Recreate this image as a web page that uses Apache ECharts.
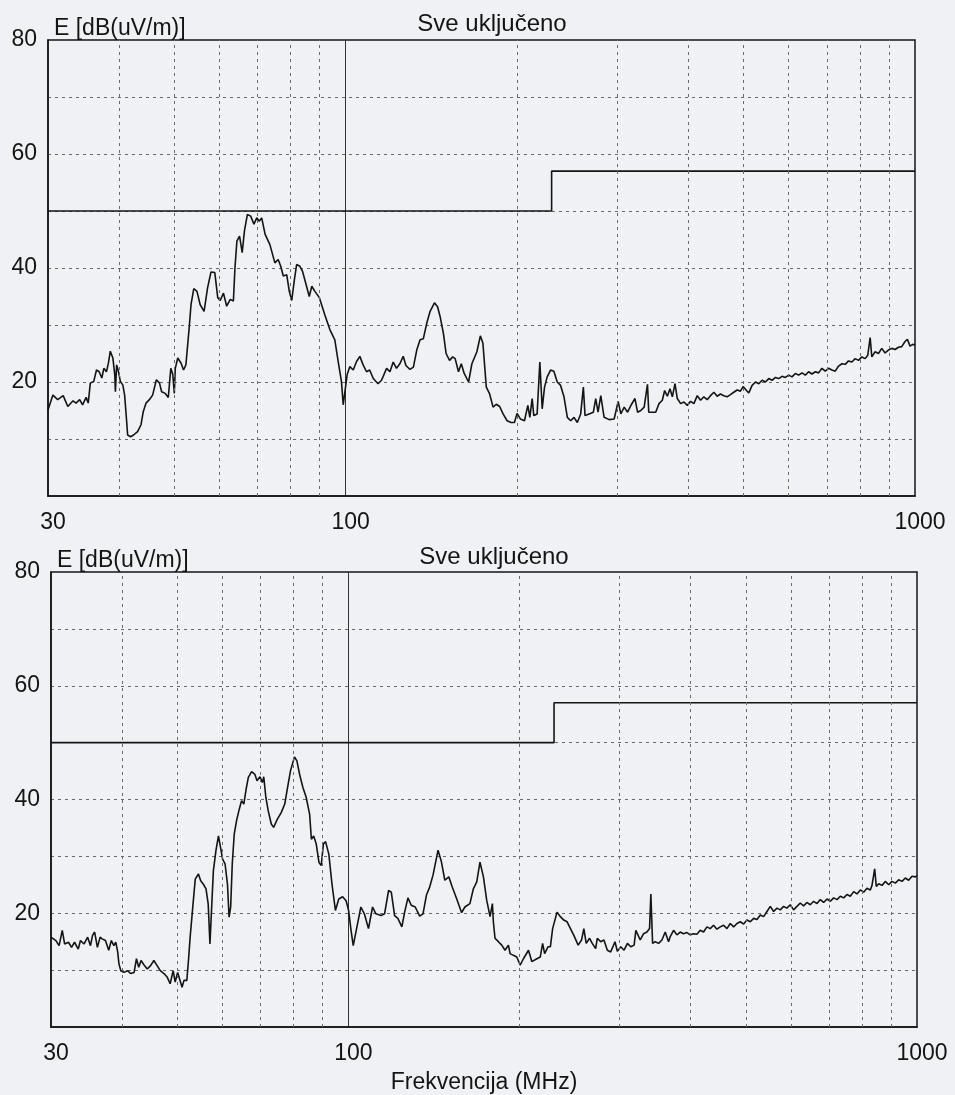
<!DOCTYPE html>
<html>
<head>
<meta charset="utf-8">
<title>Sve uključeno</title>
<script src="https://cdn.jsdelivr.net/npm/echarts/dist/echarts.min.js"></script>
<style>
html, body { margin: 0; padding: 0; background: #eff1f4; }
#chart { width: 955px; height: 1095px; }
</style>
</head>
<body>
<div id="chart"></div>
<script>
// gornji graf - frekvencija (MHz) i razina (dB(uV/m))
var topFreq = [30.0, 30.6, 31.2, 31.9, 32.5, 33.2, 33.6, 34.1, 34.5, 35.0, 35.3, 35.6, 36.1, 36.5, 36.9, 37.3, 37.6, 38.0, 38.3, 38.6,
	39.0, 39.3, 39.4, 39.6, 39.9, 40.2, 40.6, 40.9, 41.2, 41.4, 41.9, 42.4, 43.1, 43.7, 44.1, 44.6, 45.2, 45.8, 46.5, 47.1,
	47.5, 48.2, 48.8, 49.3, 49.7, 50.0, 50.2, 50.7, 51.4, 51.9, 52.4, 52.8, 53.1, 53.5, 54.1, 54.8, 55.5, 56.4, 57.2, 58.0,
	58.9, 59.6, 60.2, 61.0, 61.8, 62.7, 63.5, 63.9, 64.4, 65.1, 65.8, 66.4, 67.2, 68.1, 69.0, 69.8, 70.5, 71.2, 72.2, 73.6,
	75.1, 76.1, 76.9, 77.7, 78.8, 79.6, 80.4, 81.2, 82.0, 83.1, 84.0, 85.2, 86.3, 87.2, 88.3, 89.9, 91.9, 93.8, 95.7, 97.0,
	98.3, 99.0, 99.8, 100.6, 101.7, 103.1, 104.5, 105.9, 107.3, 108.8, 110.2, 111.7,
	112.5, 114.0, 115.6, 118.0, 119.6, 121.2, 122.8, 124.5, 126.2, 127.6, 129.7, 131.5, 133.3, 135.1, 136.9, 138.8, 140.7, 143.2,
	145.0, 146.5, 148.5, 150.1, 152.2, 154.2, 155.7, 157.8, 159.6, 161.5, 164.4, 166.6, 170.0, 172.4, 174.2, 176.6, 179.0, 181.5,
	183.9, 186.4, 189.0, 192.1, 195.2, 197.9, 200.0, 202.8, 206.1, 208.9, 210.6, 212.6, 214.0, 216.9, 219.3, 221.4, 223.5, 225.9,
	229.0, 232.1, 235.3, 238.5, 241.8, 245.1, 248.4, 251.8, 255.2, 258.7, 261.5, 263.3, 267.6, 272.3, 274.9, 277.5, 280.6, 284.4,
	290.3, 296.2, 301.0, 304.3, 308.5, 312.7, 317.8, 322.2, 325.6,
	329.9, 334.4, 338.9, 340.7, 345.8, 350.4, 355.1, 359.9, 363.3, 367.3, 371.2, 374.8, 378.8, 382.4, 387.6, 392.8, 398.1, 403.5,
	408.9, 414.5, 420.1, 425.7, 431.5, 437.3, 443.3, 449.3, 455.3, 461.5, 467.7, 474.1, 480.5, 487.0, 493.6, 499.0, 505.8, 510.5,
	517.5, 524.5, 531.6, 538.8, 546.1, 553.5, 561.0, 568.6, 576.3, 584.1, 592.0, 600.0, 608.1, 616.4, 624.7, 633.2, 641.7, 650.4,
	659.2, 668.1, 677.2, 686.3, 695.6, 705.1, 714.6, 724.3, 734.1, 744.0, 754.1, 764.3, 774.6, 785.1, 795.7, 806.5, 817.4, 826.2,
	834.1, 839.7, 851.1, 862.6, 874.3, 886.1, 898.1, 910.3, 922.6, 935.1, 947.7, 960.5, 969.6, 980.1, 990.7, 1000];
var topLevel = [15.1, 17.7, 16.9, 17.6, 15.7, 16.7, 16.3, 16.9, 16.0, 17.3, 16.3, 19.8, 20.1, 22.1, 21.8, 20.7, 22.4, 21.8, 23.3, 25.4,
	24.2, 21.3, 18.3, 23.0, 21.8, 20.1, 19.5, 17.7, 13.6, 10.7, 10.4, 10.7, 11.3, 12.5, 14.8, 16.3, 16.9, 17.7, 20.4, 19.8,
	18.3, 18.0, 17.3, 22.4, 21.3, 18.0, 22.4, 24.2, 23.3, 22.1, 23.0, 23.0, 29.5, 33.6, 36.4, 35.9, 33.6, 32.4, 36.5, 39.3,
	39.2, 34.8, 34.3, 35.6, 33.3, 34.5, 34.2, 40.0, 44.7, 45.6, 42.7, 46.5, 49.4, 49.1, 47.7, 48.8, 48.2, 48.8, 45.9, 44.1,
	40.9, 41.5, 40.3, 38.6, 38.8, 35.9, 34.3, 37.7, 40.6, 40.3, 39.4, 37.1, 35.0, 36.8, 35.9, 34.8, 31.8, 29.2, 27.4, 23.6,
	20.1, 16.0, 16.0, 21.3, 22.7, 22.1, 23.6, 24.5, 23.0, 21.8, 22.1, 20.7,
	20.3, 19.7, 20.3, 22.4, 21.8, 23.5, 22.4, 23.2, 24.5, 22.9, 22.2, 22.6, 25.6, 27.4, 27.6, 30.3, 32.4, 33.9,
	33.2, 31.5, 28.5, 25.0, 23.8, 24.4, 24.1, 21.8, 23.2, 21.5, 20.0, 23.2, 25.3, 28.1, 26.8, 19.1, 17.9, 15.6,
	16.1, 15.7, 14.4, 13.2, 12.9, 12.9, 14.5, 13.5, 13.2, 15.9, 13.8, 17.1, 14.1, 14.4, 23.5, 15.3, 19.1, 20.9,
	22.1, 21.9, 20.0, 19.4, 17.4, 13.8, 13.2, 13.8, 12.9, 14.4, 19.1, 14.1, 14.4, 14.7, 17.1, 14.7, 17.6, 13.8,
	13.4, 13.5, 16.6, 14.4, 15.6, 14.7, 16.1, 17.1, 14.7,
	15.0, 15.6, 19.6, 14.7, 14.7, 14.7, 16.2, 16.8, 18.5, 17.5, 18.8, 17.4, 19.7, 17.1, 16.2, 16.5, 15.9, 16.6,
	16.2, 17.6, 16.8, 17.4, 16.9, 17.6, 18.2, 17.5, 17.9, 17.6, 17.4, 17.8, 18.2, 18.6, 18.4, 19.2, 18.5, 18.1,
	19.4, 20.0, 19.7, 20.3, 20.0, 20.6, 20.3, 20.8, 20.6, 21.0, 20.8, 21.2, 20.9, 21.5, 21.2, 21.6, 21.2, 21.8,
	21.4, 21.8, 21.6, 22.4, 21.9, 22.4, 22.1, 21.9, 22.8, 23.2, 23.1, 23.7, 23.5, 24.1, 23.8, 24.4, 24.1, 24.7,
	27.8, 24.4, 25.3, 25.0, 25.9, 25.1, 25.6, 25.9, 25.7, 26.1, 26.2, 27.1, 27.5, 26.3, 26.6, 26.5];

// donji graf
var bottomFreq = [30.0, 30.6, 31.0, 31.4, 31.7, 32.2, 32.6, 33.0, 33.5, 33.8, 34.3, 34.8, 35.2, 35.5, 35.8, 36.2, 36.6, 36.9, 37.4, 37.9,
	38.3, 38.7, 39.0, 39.3, 39.5, 39.8, 40.3, 40.9, 41.4, 42.0, 42.4, 42.8, 43.2, 43.8, 44.3, 44.9, 45.5, 46.1, 46.7, 47.4,
	48.0, 48.6, 49.2, 49.6, 50.1, 50.5, 51.0, 51.4, 52.0, 52.4, 52.7, 53.2, 53.8, 54.5, 55.0, 55.6, 56.2, 56.7, 57.1, 57.5,
	57.9, 58.5, 59.1, 59.6, 60.1, 60.7, 61.3, 61.7, 62.1, 62.5, 63.0, 63.6, 64.3, 64.9, 65.5, 66.1, 66.7, 67.6, 68.5, 69.1,
	69.9, 70.6, 71.0, 71.6, 72.3, 73.2, 73.9, 74.9, 76.2, 77.3, 78.0, 79.1, 80.4, 81.2, 82.1, 83.2, 84.3, 85.5, 86.1, 86.9,
	87.8, 88.8, 89.6, 90.4, 91.2, 92.4, 93.6, 94.9, 96.2, 97.7, 99.1, 100.1, 101.1, 102.0, 103.4, 105.2, 106.7, 108.5, 110.3, 111.8,
	112.7, 114.2, 115.8, 117.7, 119.0, 120.6, 122.2, 124.2, 125.6, 127.3, 129.0, 131.1, 133.5, 135.3, 137.2, 139.0, 140.9, 143.8,
	145.8, 147.8, 150.2, 152.3, 155.0, 158.2, 160.3, 163.6, 165.9, 168.2, 170.4, 172.8, 175.1, 177.5, 179.2, 179.9, 181.1, 183.6,
	186.1, 188.6, 191.2, 192.5, 195.1, 197.8, 200.5, 203.2, 207.4, 210.2, 214.6, 217.5, 219.6, 221.4, 224.4, 226.6, 228.7, 232.8,
	236.0, 239.2, 242.5, 245.8, 249.2, 253.6, 257.1, 259.5, 262.0, 265.6, 268.5, 272.2, 274.0, 277.8, 281.5, 285.4, 289.3, 294.4,
	297.2, 301.3, 305.4, 309.6, 313.8, 318.1, 320.3,
	326.1, 330.5, 335.0, 338.6, 340.4, 342.8, 346.5, 351.2, 356.0, 360.8, 365.7, 368.2, 373.2, 378.3, 383.4, 388.6, 393.9, 399.2,
	404.7, 410.2, 415.7, 421.4, 427.1, 432.9, 438.8, 444.8, 450.8, 457.0, 463.2, 469.5, 475.9, 482.4, 489.0, 495.6, 502.3, 509.2,
	516.1, 523.1, 530.2, 537.4, 544.7, 552.1, 559.6, 567.2, 574.9, 582.7, 590.6, 598.6, 606.7, 615.0, 623.4, 631.8, 640.4, 649.1,
	658.0, 667.0, 676.0, 685.2, 694.6, 704.0, 713.6, 723.3, 733.1, 743.1, 753.2, 763.4, 773.9, 784.3, 795.0, 805.9, 816.6, 827.8,
	833.4, 842.5, 848.1, 856.3, 867.9, 879.7, 891.6, 903.7, 916.1, 928.4, 941.1, 953.9, 966.7, 980.0, 993.3, 1000];
var bottomLevel = [15.8, 15.2, 14.3, 17.0, 14.6, 14.9, 14.0, 14.9, 13.7, 15.2, 14.6, 15.8, 14.3, 16.1, 16.7, 14.0, 15.8, 15.5, 15.2, 13.5,
	15.2, 14.3, 14.9, 13.2, 11.1, 9.9, 9.6, 9.9, 9.4, 9.6, 12.0, 10.5, 11.7, 10.8, 10.2, 10.8, 11.7, 10.8, 9.9, 9.4,
	8.8, 7.6, 9.9, 7.9, 9.6, 9.6, 7.0, 8.2, 8.2, 12.3, 15.8, 20.5, 26.0, 26.9, 25.7, 25.1, 24.3, 21.6, 14.6, 21.1,
	27.5, 31.0, 33.6, 31.6, 29.5, 28.7, 25.1, 19.3, 21.1, 28.7, 33.9, 36.3, 38.3, 39.8, 39.2, 41.8, 43.9, 44.9, 44.4, 43.3,
	44.0, 43.0, 44.0, 40.4, 38.0, 35.7, 35.1, 36.4, 37.7, 39.2, 41.5, 45.0, 47.5, 46.8, 44.4, 42.1, 40.4, 37.4, 33.0, 33.6,
	32.2, 28.9, 28.4, 32.2, 32.6, 30.4, 25.1, 20.5, 22.5, 22.9, 22.2, 20.5, 17.0, 14.3, 17.3, 21.1, 19.9, 17.3, 21.1, 19.9,
	19.6, 19.6, 19.9, 24.0, 23.7, 19.6, 19.1, 17.6, 20.2, 22.7, 21.4, 21.1, 19.5, 19.9, 23.2, 24.6, 26.7, 31.1,
	29.0, 25.8, 26.4, 24.6, 22.6, 20.1, 21.1, 21.7, 24.3, 25.5, 29.0, 26.4, 22.3, 19.4, 21.7, 18.5, 15.6, 15.0,
	14.4, 13.5, 14.4, 12.9, 12.6, 12.3, 10.9, 12.0, 13.5, 11.5, 12.0, 12.3, 14.7, 12.9, 14.1, 14.1, 17.3, 20.2,
	19.4, 18.8, 18.5, 17.3, 16.1, 14.4, 15.3, 17.3, 14.7, 15.6, 14.7, 13.8, 15.6, 15.0, 15.3, 13.5, 13.2, 15.0,
	13.3, 14.1, 13.5, 14.7, 14.1, 14.4, 17.0,
	15.3, 16.4, 16.7, 17.3, 23.4, 14.7, 15.0, 14.7, 15.3, 16.7, 15.0, 15.9, 17.0, 16.2, 16.7, 16.4, 16.6, 16.2,
	16.4, 16.3, 17.0, 16.7, 17.6, 17.3, 17.9, 17.2, 17.6, 17.9, 17.3, 18.2, 17.6, 18.2, 18.5, 18.1, 18.8, 18.5,
	19.1, 18.9, 19.7, 19.4, 20.3, 21.2, 20.3, 20.9, 20.6, 21.2, 20.9, 21.5, 20.6, 21.2, 21.8, 21.3, 21.9, 21.5,
	22.1, 21.7, 22.4, 21.9, 22.5, 22.1, 22.7, 22.4, 23.0, 22.7, 23.3, 23.0, 23.8, 23.4, 24.1, 23.7, 24.4, 24.1,
	24.9, 27.8, 24.7, 25.2, 24.9, 25.6, 25.0, 25.6, 25.3, 25.9, 25.6, 26.2, 25.8, 26.5, 26.4, 26.6];

// granicna linija (isto za oba grafa)
var limitFreq = [30, 230, 230, 1000];
var limitLevel = [50, 50, 57, 57];

// tockaste vertikalne linije mreze
var gridFreq = [40, 50, 60, 70, 80, 90, 200, 300, 400, 500, 600, 700, 800, 900];

var titleText = 'Sve uključeno';
var yName = 'E [dB(uV/m)]';
var xName = 'Frekvencija (MHz)';

var textFont = '"Liberation Sans", Arial, sans-serif';
var ink = '#141414';

function pairs(xs, ys) {
	var out = [];
	for (var i = 0; i < xs.length; i++) {
		out.push([xs[i], ys[i]]);
	}
	return out;
}

function makeX(idx, withName) {
	var ax = {
		type: 'log',
		logBase: 10,
		gridIndex: idx,
		min: 30,
		max: 1000,
		axisLine: { show: true, lineStyle: { color: ink, width: 1.5 } },
		axisTick: { show: false },
		axisLabel: {
			show: true,
			showMinLabel: true,
			showMaxLabel: true,
			fontSize: 23,
			fontFamily: textFont,
			color: ink,
			margin: 15,
			padding: [0, 0, 0, 10],
			formatter: function (v) { return String(Math.round(v)); }
		},
		splitLine: {
			show: true,
			showMinLine: false,
			showMaxLine: false,
			lineStyle: { color: '#333', width: 1, type: 'solid' }
		}
	};
	if (withName) {
		ax.name = xName;
		ax.nameLocation = 'middle';
		ax.nameGap = 44;
		ax.nameTextStyle = { fontSize: 23, fontFamily: textFont, color: ink };
	}
	return ax;
}

function makeY(idx) {
	return {
		type: 'value',
		gridIndex: idx,
		min: 0,
		max: 80,
		interval: 10,
		name: yName,
		nameLocation: 'end',
		nameGap: 0,
		nameTextStyle: {
			fontSize: 23,
			fontFamily: textFont,
			color: ink,
			align: 'left',
			verticalAlign: 'bottom',
			padding: [0, 0, 0, 6]
		},
		axisLine: { show: true, lineStyle: { color: ink, width: 1.5 } },
		axisTick: { show: false },
		axisLabel: {
			fontSize: 23,
			fontFamily: textFont,
			color: ink,
			margin: 11,
			padding: [6, 0, 0, 0],
			formatter: function (v) {
				return (v > 0 && v % 20 === 0) ? String(v) : '';
			}
		},
		splitLine: {
			show: true,
			showMinLine: false,
			showMaxLine: false,
			lineStyle: { color: '#6a6a6a', width: 1, type: [3, 4] }
		}
	};
}

function makeSeries(idx, fs, vs) {
	return [
		{
			name: 'limit' + idx,
			type: 'line',
			xAxisIndex: idx,
			yAxisIndex: idx,
			data: pairs(limitFreq, limitLevel),
			showSymbol: false,
			silent: true,
			z: 3,
			lineStyle: { color: ink, width: 1.6 },
			markLine: {
				silent: true,
				symbol: ['none', 'none'],
				label: { show: false },
				lineStyle: { color: '#6a6a6a', width: 1, type: [3, 4] },
				data: gridFreq.map(function (f) { return { xAxis: f }; })
			}
		},
		{
			name: 'E' + idx,
			type: 'line',
			xAxisIndex: idx,
			yAxisIndex: idx,
			data: pairs(fs, vs),
			showSymbol: false,
			silent: true,
			z: 4,
			lineStyle: { color: ink, width: 1.6 }
		}
	];
}

var myChart = echarts.init(document.getElementById('chart'));

var option = {
	animation: false,
	backgroundColor: '#eff1f4',
	title: [
		{
			text: titleText,
			left: 492,
			top: 12,
			textAlign: 'center',
			padding: 0,
			textStyle: { fontSize: 24, fontWeight: 'normal', fontFamily: textFont, color: ink }
		},
		{
			text: titleText,
			left: 494,
			top: 545,
			textAlign: 'center',
			padding: 0,
			textStyle: { fontSize: 24, fontWeight: 'normal', fontFamily: textFont, color: ink }
		}
	],
	grid: [
		{ left: 48, top: 40, width: 867, height: 456, show: true, borderColor: ink, borderWidth: 1.5, backgroundColor: 'transparent' },
		{ left: 51, top: 572, width: 866, height: 456, show: true, borderColor: ink, borderWidth: 1.5, backgroundColor: 'transparent' }
	],
	xAxis: [makeX(0, false), makeX(1, true)],
	yAxis: [makeY(0), makeY(1)],
	series: makeSeries(0, topFreq, topLevel).concat(makeSeries(1, bottomFreq, bottomLevel))
};

myChart.setOption(option);
window.addEventListener('resize', function () {
	myChart.resize();
});
</script>
</body>
</html>
